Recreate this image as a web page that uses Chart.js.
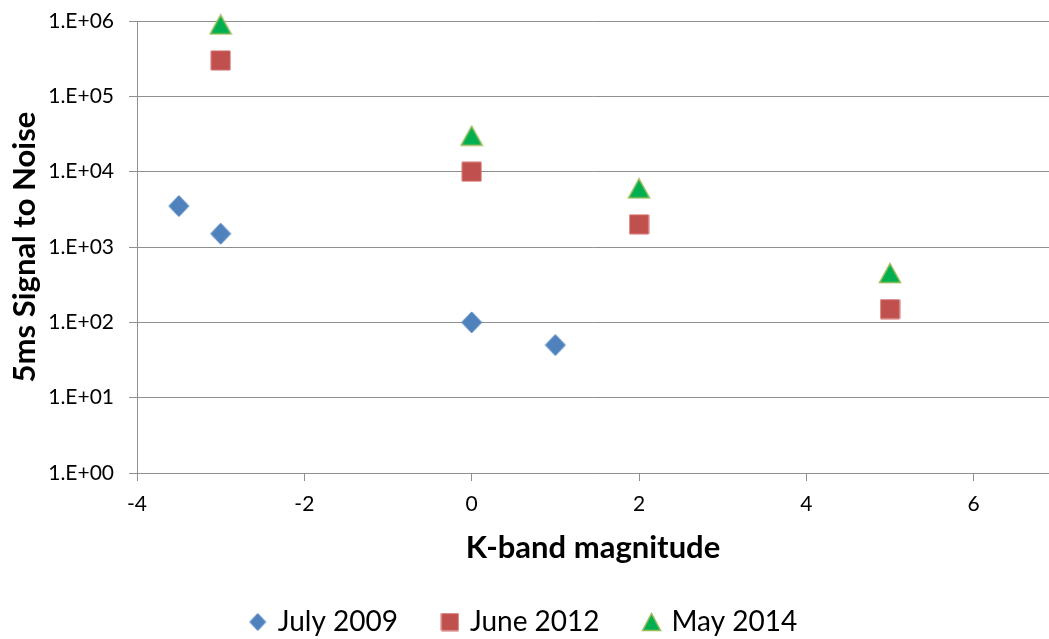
<!DOCTYPE html>
<html>
<head>
<meta charset="utf-8">
<title>5ms Signal to Noise vs K-band magnitude</title>
<script src="https://cdn.jsdelivr.net/npm/chart.js@4/dist/chart.umd.min.js"></script>
<style>
    html, body { margin: 0; padding: 0; background: #fff; }
    #wrap { width: 1049px; height: 639px; position: relative; }
</style>
</head>
<body>
<div id="wrap"><canvas id="snrChart"></canvas></div>
<script>
// ---------------------------------------------------------------------
// DATA
// ---------------------------------------------------------------------
const xTicks = [-4, -2, 0, 2, 4, 6];
const yTicks = [1, 10, 100, 1000, 10000, 100000, 1000000];
const yTickLabels = ['1.E+00', '1.E+01', '1.E+02', '1.E+03', '1.E+04', '1.E+05', '1.E+06'];

const july2009Mag = [-3.5, -3, 0, 1];
const july2009Snr = [3500, 1500, 100, 50];

const june2012Mag = [-3, 0, 2, 5];
const june2012Snr = [300000, 10000, 2000, 150];

const may2014Mag = [-3, 0, 2, 5];
const may2014Snr = [900000, 30000, 6000, 450];

const FONT = 'Lato, "Open Sans", "DejaVu Sans", sans-serif';
const GRID = '#8f8f8f';

function toPoints(xs, ys) {
    return xs.map((x, i) => ({ x: x, y: ys[i] }));
}

// --------------------------------------------------------------------------
// MARKERS (small canvases, centred on their bounding box)
// --------------------------------------------------------------------------
function makeMarker(shape, w, h, fill, stroke, lw) {
    const c = document.createElement('canvas');
    c.width = Math.ceil(w + lw * 2);
    c.height = Math.ceil(h + lw * 2);
    const g = c.getContext('2d');
    const cx = c.width / 2, cy = c.height / 2;
    g.beginPath();
    if (shape === 'diamond') {
        g.moveTo(cx, cy - h / 2);
        g.lineTo(cx + w / 2, cy);
        g.lineTo(cx, cy + h / 2);
        g.lineTo(cx - w / 2, cy);
    } else if (shape === 'square') {
        g.rect(cx - w / 2, cy - h / 2, w, h);
    } else {
        g.moveTo(cx, cy - h / 2);
        g.lineTo(cx + w / 2, cy + h / 2);
        g.lineTo(cx - w / 2, cy + h / 2);
    }
    g.closePath();
    g.fillStyle = fill;
    g.fill();
    if (lw > 0) {
        g.lineWidth = lw;
        g.strokeStyle = stroke;
        g.stroke();
    }
    return c;
}

const plotMarkers = [
    makeMarker('diamond', 20, 21, '#4f81bd', '#5b8cc6', 1),
    makeMarker('square', 19, 19, '#c0504d', '#d06c69', 1),
    makeMarker('triangle', 21, 19, '#00b050', '#9bbb59', 1.5),
];
const legendMarkers = [
    makeMarker('diamond', 16, 17, '#4f81bd', '#5b8cc6', 1),
    makeMarker('square', 17, 17, '#c0504d', '#d06c69', 1),
    makeMarker('triangle', 18, 17, '#00b050', '#9bbb59', 1.5),
];

// plot area is pinned by layout.padding, so drop the label overhang the scales ask for
function pinScale(scale, size) {
    if (scale.isHorizontal()) scale.height = size;
    else scale.width = size;
    scale.paddingTop = 0;
    scale.paddingBottom = 0;
    scale.paddingLeft = 0;
    scale.paddingRight = 0;
}

// ---------------------------------------------------------------------
// CHART
// ---------------------------------------------------------------------
const ctx = document.getElementById('snrChart');
new Chart(ctx, {
    type: 'scatter',
    data: {
        datasets: [
            {
                label: 'July 2009',
                data: toPoints(july2009Mag, july2009Snr),
                pointStyle: plotMarkers[0],
                backgroundColor: '#4f81bd',
                borderColor: '#4f81bd',
                clip: false,
            },
            {
                label: 'June 2012',
                data: toPoints(june2012Mag, june2012Snr),
                pointStyle: plotMarkers[1],
                backgroundColor: '#c0504d',
                borderColor: '#c0504d',
                clip: false,
            },
            {
                label: 'May 2014',
                data: toPoints(may2014Mag, may2014Snr),
                pointStyle: plotMarkers[2],
                backgroundColor: '#00b050',
                borderColor: '#9bbb59',
                clip: false,
            },
        ],
    },
    options: {
        responsive: true,
        maintainAspectRatio: false,
        animation: false,
        layout: { autoPadding: false, padding: { top: 21, right: 0, left: 0, bottom: -7 } },
        plugins: {
            tooltip: { enabled: false },
            legend: {
                position: 'bottom',
                labels: {
                    usePointStyle: true,
                    boxWidth: 12,
                    boxHeight: 12,
                    padding: 46,
                    color: '#000',
                    font: { family: FONT, size: 28 },
                    generateLabels: (chart) => Chart.defaults.plugins.legend.labels.generateLabels(chart)
                        .map(item => Object.assign(item, { pointStyle: legendMarkers[item.datasetIndex] })),
                },
            },
        },
        scales: {
            x: {
                type: 'linear',
                min: -4,
                max: 6.9,
                afterBuildTicks: (scale) => { scale.ticks = xTicks.map(v => ({ value: v })); },
                afterFit: (scale) => pinScale(scale, 89),
                grid: { drawOnChartArea: false, drawTicks: true, tickLength: 8, color: GRID },
                border: { color: GRID, width: 1 },
                ticks: { color: '#000', padding: 11, font: { family: FONT, size: 21 } },
                title: {
                    display: true,
                    text: 'K-band magnitude',
                    color: '#000',
                    padding: { top: 0, bottom: -5 },
                    font: { family: FONT, size: 31, weight: 'bold' },
                },
            },
            y: {
                type: 'logarithmic',
                min: 1,
                max: 1000000,
                afterBuildTicks: (scale) => { scale.ticks = yTicks.map(v => ({ value: v })); },
                afterFit: (scale) => pinScale(scale, 137),
                grid: { drawOnChartArea: true, drawTicks: true, tickLength: 8, color: GRID },
                border: { color: GRID, width: 1 },
                ticks: {
                    color: '#000',
                    padding: 15,
                    font: { family: FONT, size: 21 },
                    callback: (value, index) => yTickLabels[index],
                },
                title: {
                    display: true,
                    text: '5ms Signal to Noise',
                    color: '#000',
                    padding: { top: 6, bottom: 0 },
                    font: { family: FONT, size: 31, weight: 'bold' },
                },
            },
        },
    },
});
</script>
</body>
</html>
